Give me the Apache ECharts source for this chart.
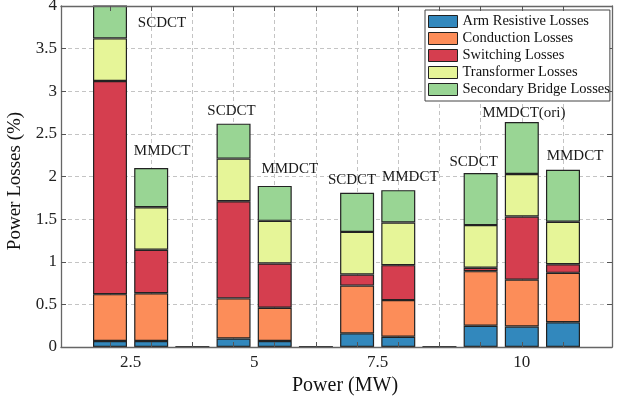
<!DOCTYPE html>
<html>
<head>
<meta charset="utf-8">
<script src="https://cdn.jsdelivr.net/npm/echarts@6/dist/echarts.min.js"></script>
<style>
  html, body { margin: 0; padding: 0; background: #fff; }
  #chart { width: 626px; height: 397px; }
</style>
</head>
<body>
<div id="chart"></div>
<script>
// Bar slots along the x axis (three slots per power level, the third left empty)
const barSlots = [0, 1, 3, 4, 6, 7, 9, 10, 11];
const barNames = ['SCDCT', 'MMDCT', 'SCDCT', 'MMDCT', 'SCDCT', 'MMDCT', 'SCDCT', 'MMDCT(ori)', 'MMDCT'];

// Loss components (% of rated power) for each bar
const armLosses        = [0.07, 0.07, 0.10, 0.07, 0.16, 0.12, 0.25, 0.24, 0.29];
const conductionLosses = [0.55, 0.56, 0.47, 0.39, 0.56, 0.43, 0.64, 0.55, 0.58];
const switchingLosses  = [2.50, 0.51, 1.14, 0.52, 0.13, 0.41, 0.04, 0.74, 0.10];
const transformerLosses = [0.50, 0.50, 0.50, 0.50, 0.50, 0.50, 0.50, 0.50, 0.50];
const secondaryLosses  = [0.42, 0.46, 0.41, 0.41, 0.46, 0.38, 0.61, 0.61, 0.61];

// Empty spacer slots between power levels (drawn as flat outlines)
const gapSlots = [2, 5, 8];
const gapValues = [0, 0, 0];

// Power-level tick labels and the slot each is centred on
const powerLabels = ['2.5', '5', '7.5', '10'];
const powerLabelSlots = [0.5, 3.5, 6.5, 10];
const tickSlots = [0, 1, 2, 3, 4, 5, 6, 7, 8, 9, 10, 11];

const seriesNames = ['Arm Resistive Losses', 'Conduction Losses', 'Switching Losses',
                     'Transformer Losses', 'Secondary Bridge Losses'];
const seriesColors = ['#3288bd', '#fc8d59', '#d53e4f', '#e6f598', '#99d594'];
const seriesValues = [armLosses, conductionLosses, switchingLosses, transformerLosses, secondaryLosses];

// Per-bar nudges for the topology labels above each stack
const labelNudge = [
  { position: 'insideTop', offset: [52, 10] },
  { offset: [11, -9.5] },
  { offset: [-2, -5] },
  { offset: [15, -9] },
  { offset: [-5, -5] },
  { offset: [12, -6] },
  { offset: [-7, -4] },
  { offset: [2, -1] },
  { offset: [12, -6] }
];

const FONT = '"Liberation Serif", "Times New Roman", serif';
const W = 626, H = 397;
const GRID = { left: 61, right: 14, top: 6, bottom: 50 };
const X_MIN = -1.19, X_MAX = 12.19;
const AXIS_COLOR = '#666';
const BAR_WIDTH = 34;

// The bars sit on a hidden category axis whose bands line up with the slot scale
const slotCount = tickSlots.length;
const slotPx = (W - GRID.left - GRID.right) / (X_MAX - X_MIN);
const barGrid = {
  left: GRID.left + (-0.5 - X_MIN) * slotPx,
  right: GRID.right + (X_MAX - (slotCount - 0.5)) * slotPx,
  top: GRID.top,
  bottom: GRID.bottom
};
const slotCategories = tickSlots.map(String);

function toSlotArray(values, slots) {
  const out = tickSlots.map(() => '-');
  slots.forEach((s, i) => { out[s] = values[i]; });
  return out;
}

const chart = echarts.init(document.getElementById('chart'), null, { renderer: 'canvas' });

const series = seriesValues.map((vals, si) => {
  const isTop = si === seriesValues.length - 1;
  const data = tickSlots.map(() => '-');
  barSlots.forEach((s, i) => {
    const item = { value: vals[i], name: barNames[i] };
    if (isTop) {
      const nudge = labelNudge[i];
      item.label = {
        show: true,
        position: nudge.position || 'top',
        distance: 0,
        offset: nudge.offset,
        formatter: barNames[i],
        fontFamily: FONT,
        fontSize: 15,
        color: '#1a1a1a'
      };
    }
    data[s] = item;
  });
  return {
    name: seriesNames[si],
    type: 'bar',
    stack: 'losses',
    xAxisIndex: 3,
    yAxisIndex: 2,
    barWidth: BAR_WIDTH,
    clip: true,
    z: 2,
    itemStyle: { color: seriesColors[si], borderColor: '#222', borderWidth: 1.2 },
    emphasis: { disabled: true },
    data: data
  };
});

series.push({
  name: 'spacer',
  type: 'bar',
  stack: 'losses',
  xAxisIndex: 3,
  yAxisIndex: 2,
  barWidth: BAR_WIDTH,
  z: 2,
  itemStyle: { color: 'rgba(0,0,0,0)', borderColor: '#333', borderWidth: 2 },
  emphasis: { disabled: true },
  data: toSlotArray(gapValues, gapSlots)
});

const xBase = { type: 'value', min: X_MIN, max: X_MAX, gridIndex: 0 };

chart.setOption({
  animation: false,
  backgroundColor: '#fff',
  textStyle: { fontFamily: FONT },
  grid: [
    Object.assign({ containLabel: false, outerBoundsMode: 'none' }, GRID),
    Object.assign({ containLabel: false, outerBoundsMode: 'none' }, barGrid)
  ],
  legend: {
    data: seriesNames,
    orient: 'vertical',
    left: 425,
    top: 10,
    padding: [4, 0, 4, 3],
    itemGap: 2,
    itemWidth: 29,
    itemHeight: 12,
    icon: 'rect',
    backgroundColor: '#fff',
    borderColor: '#444',
    borderWidth: 1,
    borderRadius: 0,
    selectedMode: false,
    itemStyle: { borderColor: '#222', borderWidth: 1 },
    textStyle: { fontFamily: FONT, fontSize: 14.5, lineHeight: 15, color: '#111' }
  },
  xAxis: [
    Object.assign({}, xBase, {
      position: 'bottom',
      z: 5,
      name: 'Power (MW)',
      nameLocation: 'middle',
      nameGap: 26,
      nameTextStyle: { fontFamily: FONT, fontSize: 20, color: '#111', padding: [0, 0, 0, 17] },
      axisLine: { show: true, onZero: false, lineStyle: { color: AXIS_COLOR, width: 1.3 } },
      axisTick: { show: true, inside: true, length: 5, customValues: tickSlots,
                  lineStyle: { color: '#555', width: 1 } },
      axisLabel: {
        show: true, margin: 7, customValues: powerLabelSlots,
        fontFamily: FONT, fontSize: 17, color: '#222',
        formatter: v => {
          const k = powerLabelSlots.indexOf(v);
          return k >= 0 ? powerLabels[k] : '';
        }
      },
      splitLine: { show: false }
    }),
    Object.assign({}, xBase, {
      position: 'top',
      z: 5,
      axisLine: { show: true, onZero: false, lineStyle: { color: AXIS_COLOR, width: 1.3 } },
      axisTick: { show: true, inside: true, length: 5, customValues: tickSlots,
                  lineStyle: { color: '#555', width: 1 } },
      axisLabel: { show: false },
      splitLine: { show: false }
    }),
    Object.assign({}, xBase, {
      position: 'bottom',
      z: 0,
      axisLine: { show: false, onZero: false },
      axisTick: { show: false, customValues: tickSlots },
      axisLabel: { show: false },
      splitLine: { show: true, lineStyle: { color: '#c4c4c4', width: 1, type: [4, 3] } }
    }),
    {
      type: 'category',
      gridIndex: 1,
      data: slotCategories,
      boundaryGap: true,
      show: false
    }
  ],
  yAxis: [
    {
      type: 'value',
      gridIndex: 0,
      position: 'left',
      min: 0, max: 4, interval: 0.5,
      name: 'Power Losses (%)',
      nameLocation: 'middle',
      nameGap: 31,
      nameTextStyle: { fontFamily: FONT, fontSize: 19, color: '#111', padding: [0, 9, 0, 0] },
      axisLine: { show: true, onZero: false, lineStyle: { color: AXIS_COLOR, width: 1.3 } },
      axisTick: { show: true, inside: true, length: 5, lineStyle: { color: '#555', width: 1 } },
      axisLabel: { margin: 4, fontFamily: FONT, fontSize: 17, color: '#222' },
      splitLine: { show: true, lineStyle: { color: '#c4c4c4', width: 1, type: [4, 3] } }
    },
    {
      type: 'value',
      gridIndex: 0,
      position: 'right',
      min: 0, max: 4, interval: 0.5,
      axisLine: { show: true, onZero: false, lineStyle: { color: AXIS_COLOR, width: 1.3 } },
      axisTick: { show: true, inside: true, length: 5, lineStyle: { color: '#555', width: 1 } },
      axisLabel: { show: false },
      splitLine: { show: false }
    },
    {
      type: 'value',
      gridIndex: 1,
      min: 0, max: 4, interval: 0.5,
      show: false
    }
  ],
  series: series
});
</script>
</body>
</html>
